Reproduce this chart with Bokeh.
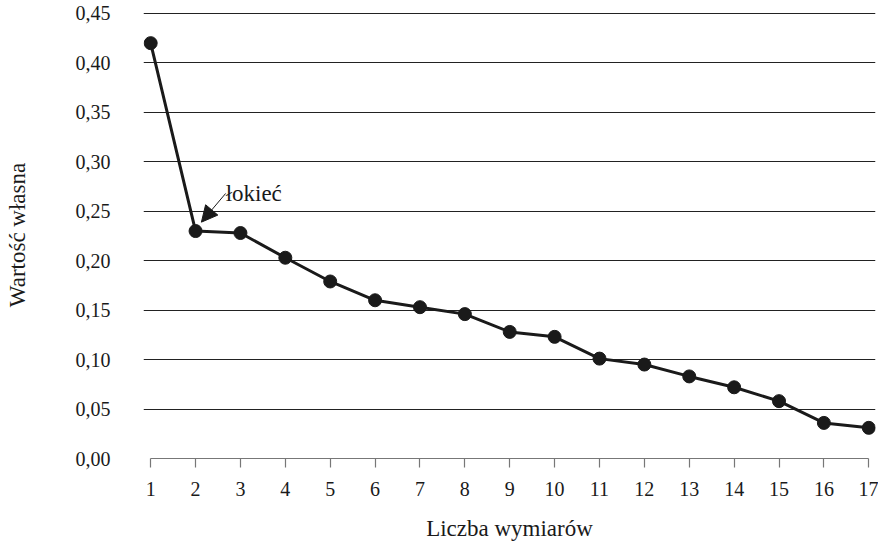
from bokeh.plotting import figure
from bokeh.models import Range1d, FixedTicker, Arrow, NormalHead, Label
from bokeh.embed import file_html
from bokeh.resources import INLINE

# ---- data ----
dims = list(range(1, 18))
eigen = [0.420, 0.230, 0.228, 0.203, 0.179, 0.160, 0.153, 0.146, 0.128,
         0.123, 0.101, 0.095, 0.083, 0.072, 0.058, 0.036, 0.031]
y_ticks = [0.00, 0.05, 0.10, 0.15, 0.20, 0.25, 0.30, 0.35, 0.40, 0.45]
y_tick_labels = ["0,00", "0,05", "0,10", "0,15", "0,20", "0,25", "0,30", "0,35", "0,40", "0,45"]
x_title = "Liczba wymiarów"
y_title = "Wartość własna"
note_text = "łokieć"
note_xy = (2.67, 0.268)     # arrow start / label anchor
note_tip = (2.13, 0.239)    # arrow tip (at point 2)

FONT = "'Liberation Serif', serif"
INK = "#1a1a1a"

p = figure(width=878, height=543, output_backend="svg", toolbar_location=None,
           x_range=Range1d(0.84, 17.15), y_range=Range1d(0.0, 0.452),
           min_border_left=143, min_border_right=3, min_border_top=11, min_border_bottom=80)
p.outline_line_color = None
p.background_fill_color = "white"
p.border_fill_color = "white"

# grids
p.xgrid.visible = False
p.ygrid.ticker = FixedTicker(ticks=y_ticks[1:])
p.ygrid.grid_line_color = "#222222"
p.ygrid.grid_line_width = 1
p.ygrid.bounds = (1, 17)

# x axis
p.xaxis.ticker = FixedTicker(ticks=dims)
p.xaxis.bounds = (1, 17)
p.xaxis.axis_line_color = "#777777"
p.xaxis.axis_line_width = 1.2
p.xaxis.major_tick_line_color = "#777777"
p.xaxis.major_tick_line_width = 1.2
p.xaxis.major_tick_in = 0
p.xaxis.major_tick_out = 9
p.xaxis.minor_tick_line_color = None
p.xaxis.major_label_standoff = 14
p.xaxis.major_label_text_font = FONT
p.xaxis.major_label_text_font_size = "20px"
p.xaxis.major_label_text_color = INK
p.xaxis.axis_label = x_title
p.xaxis.axis_label_text_font = FONT
p.xaxis.axis_label_text_font_size = "23px"
p.xaxis.axis_label_text_font_style = "normal"
p.xaxis.axis_label_text_color = INK
p.xaxis.axis_label_standoff = 17

# y axis
p.yaxis.ticker = FixedTicker(ticks=y_ticks)
p.yaxis.major_label_overrides = {t: lab for t, lab in zip(y_ticks, y_tick_labels)}
p.yaxis.axis_line_color = None
p.yaxis.major_tick_line_color = None
p.yaxis.minor_tick_line_color = None
p.yaxis.major_tick_in = 0
p.yaxis.major_tick_out = 0
p.yaxis.major_label_standoff = 33
p.yaxis.major_label_text_font = FONT
p.yaxis.major_label_text_font_size = "20px"
p.yaxis.major_label_text_color = INK
p.yaxis.axis_label = y_title
p.yaxis.axis_label_text_font = FONT
p.yaxis.axis_label_text_font_size = "23px"
p.yaxis.axis_label_text_font_style = "normal"
p.yaxis.axis_label_text_color = INK
p.yaxis.axis_label_standoff = 43

# series
p.line(dims, eigen, line_color=INK, line_width=3)
p.scatter(dims, eigen, size=13, fill_color=INK, line_color=INK)

# annotation
p.add_layout(Arrow(end=NormalHead(size=16, fill_color=INK, line_color=INK, line_width=1),
                   x_start=note_xy[0], y_start=note_xy[1],
                   x_end=note_tip[0], y_end=note_tip[1],
                   line_color=INK, line_width=1))
p.add_layout(Label(x=note_xy[0], y=note_xy[1], text=note_text,
                   text_font=FONT, text_font_size="23px", text_color=INK,
                   text_align="left", text_baseline="alphabetic"))

open("out.html", "w").write(file_html(p, INLINE))
